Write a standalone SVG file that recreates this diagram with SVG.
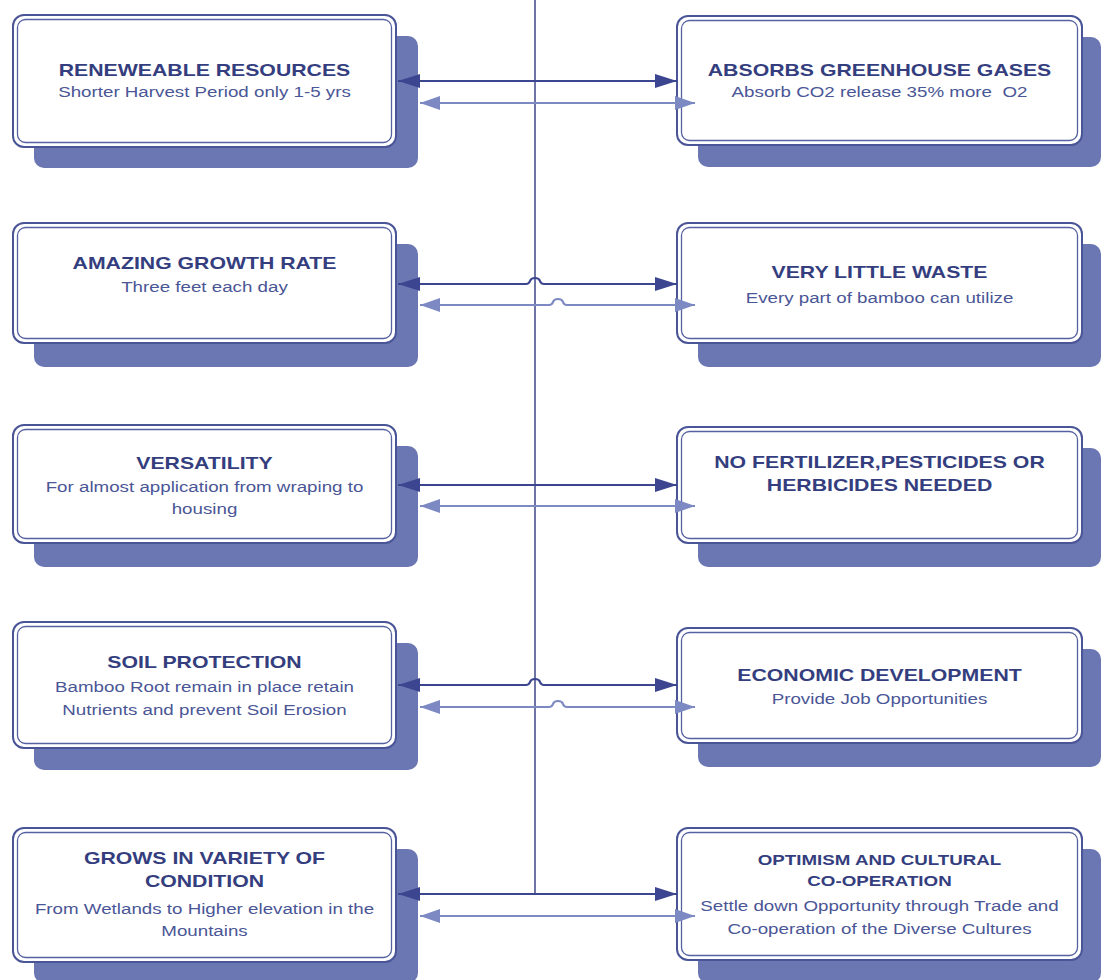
<svg xmlns="http://www.w3.org/2000/svg" width="1101" height="980" viewBox="0 0 1101 980">
<style>
.bg{fill:#ffffff}
.sh{fill:#6b77b3}
.ob{fill:#ffffff;stroke:#4a5597;stroke-width:2}
.ib{fill:none;stroke:#5561a0;stroke-width:1.3}
.t{font-family:"Liberation Sans",Arial,sans-serif;font-weight:bold;font-size:17px;fill:#343e7e;text-anchor:middle}
.ts{font-family:"Liberation Sans",Arial,sans-serif;font-weight:bold;font-size:15px;fill:#343e7e;text-anchor:middle}
.s{font-family:"Liberation Sans",Arial,sans-serif;font-size:15px;fill:#4a5696;text-anchor:middle}
.vl{stroke:#4a5290;stroke-width:1.6;fill:none}
.dk{stroke:#3c4690;stroke-width:2.2;fill:none}
.lt{stroke:#7c89c2;stroke-width:2.2;fill:none}
</style>
<defs>
<marker id="mdk" markerUnits="userSpaceOnUse" markerWidth="22" markerHeight="14" refX="22" refY="7" orient="auto-start-reverse"><path d="M0,0 L22,7 L0,14 z" fill="#3c4690"/></marker>
<marker id="mlt" markerUnits="userSpaceOnUse" markerWidth="20" markerHeight="14" refX="20" refY="7" orient="auto-start-reverse"><path d="M0,0 L20,7 L0,14 z" fill="#7c89c2"/></marker>
</defs>
<rect class="bg" x="0" y="0" width="1101" height="980"/>

<g id="n1">
<rect class="sh" x="34" y="36" width="384" height="132" rx="10"/>
<rect class="ob" x="13" y="15" width="383" height="132" rx="11"/>
<rect class="ib" x="17.5" y="19.5" width="374" height="123" rx="8"/>
<g transform="translate(204.5,0) scale(1.25,1)">
<text class="t" x="0" y="76">RENEWEABLE RESOURCES</text>
<text class="s" x="0" y="97">Shorter Harvest Period only 1-5 yrs</text>
</g>
</g>

<g id="n2">
<rect class="sh" x="698" y="37" width="403" height="130" rx="10"/>
<rect class="ob" x="677" y="16" width="405" height="129" rx="11"/>
<rect class="ib" x="681.5" y="20.5" width="396" height="120" rx="8"/>
<g transform="translate(879.5,0) scale(1.25,1)">
<text class="t" x="0" y="76">ABSORBS GREENHOUSE GASES</text>
<text class="s" x="0" y="97">Absorb CO2 release 35% more &#160;O2</text>
</g>
</g>

<g id="n3">
<rect class="sh" x="34" y="244" width="384" height="123" rx="10"/>
<rect class="ob" x="13" y="223" width="383" height="120" rx="11"/>
<rect class="ib" x="17.5" y="227.5" width="374" height="111" rx="8"/>
<g transform="translate(204.5,0) scale(1.25,1)">
<text class="t" x="0" y="269">AMAZING GROWTH RATE</text>
<text class="s" x="0" y="292">Three feet each day</text>
</g>
</g>

<g id="n4">
<rect class="sh" x="698" y="244" width="403" height="123" rx="10"/>
<rect class="ob" x="677" y="223" width="405" height="120" rx="11"/>
<rect class="ib" x="681.5" y="227.5" width="396" height="111" rx="8"/>
<g transform="translate(879.5,0) scale(1.25,1)">
<text class="t" x="0" y="278">VERY LITTLE WASTE</text>
<text class="s" x="0" y="303">Every part of bamboo can utilize</text>
</g>
</g>

<g id="n5">
<rect class="sh" x="34" y="446" width="384" height="121" rx="10"/>
<rect class="ob" x="13" y="425" width="383" height="118" rx="11"/>
<rect class="ib" x="17.5" y="429.5" width="374" height="109" rx="8"/>
<g transform="translate(204.5,0) scale(1.25,1)">
<text class="t" x="0" y="469">VERSATILITY</text>
<text class="s" x="0" y="492">For almost application from wraping to</text>
<text class="s" x="0" y="514">housing</text>
</g>
</g>

<g id="n6">
<rect class="sh" x="698" y="448" width="403" height="119" rx="10"/>
<rect class="ob" x="677" y="427" width="405" height="116" rx="11"/>
<rect class="ib" x="681.5" y="431.5" width="396" height="107" rx="8"/>
<g transform="translate(879.5,0) scale(1.25,1)">
<text class="t" x="0" y="468">NO FERTILIZER,PESTICIDES OR</text>
<text class="t" x="0" y="491">HERBICIDES NEEDED</text>
</g>
</g>

<g id="n7">
<rect class="sh" x="34" y="643" width="384" height="127" rx="10"/>
<rect class="ob" x="13" y="622" width="383" height="126" rx="11"/>
<rect class="ib" x="17.5" y="626.5" width="374" height="117" rx="8"/>
<g transform="translate(204.5,0) scale(1.25,1)">
<text class="t" x="0" y="668">SOIL PROTECTION</text>
<text class="s" x="0" y="692">Bamboo Root remain in place retain</text>
<text class="s" x="0" y="715">Nutrients and prevent Soil Erosion</text>
</g>
</g>

<g id="n8">
<rect class="sh" x="698" y="649" width="403" height="118" rx="10"/>
<rect class="ob" x="677" y="628" width="405" height="115" rx="11"/>
<rect class="ib" x="681.5" y="632.5" width="396" height="106" rx="8"/>
<g transform="translate(879.5,0) scale(1.25,1)">
<text class="t" x="0" y="681">ECONOMIC DEVELOPMENT</text>
<text class="s" x="0" y="704">Provide Job Opportunities</text>
</g>
</g>

<g id="n9">
<rect class="sh" x="34" y="849" width="384" height="134" rx="10"/>
<rect class="ob" x="13" y="828" width="383" height="134" rx="11"/>
<rect class="ib" x="17.5" y="832.5" width="374" height="125" rx="8"/>
<g transform="translate(204.5,0) scale(1.25,1)">
<text class="t" x="0" y="864">GROWS IN VARIETY OF</text>
<text class="t" x="0" y="887">CONDITION</text>
<text class="s" x="0" y="914">From Wetlands to Higher elevation in the</text>
<text class="s" x="0" y="936">Mountains</text>
</g>
</g>

<g id="n10">
<rect class="sh" x="698" y="849" width="403" height="134" rx="10"/>
<rect class="ob" x="677" y="828" width="405" height="132" rx="11"/>
<rect class="ib" x="681.5" y="832.5" width="396" height="123" rx="8"/>
<g transform="translate(879.5,0) scale(1.25,1)">
<text class="ts" x="0" y="865">OPTIMISM AND CULTURAL</text>
<text class="ts" x="0" y="886">CO-OPERATION</text>
<text class="s" x="0" y="911">Settle down Opportunity through Trade and</text>
<text class="s" x="0" y="934">Co-operation of the Diverse Cultures</text>
</g>
</g>

<g id="connectors">
<path class="vl" d="M535,0 V894"/>

<path class="dk" d="M398,81 H677" marker-start="url(#mdk)" marker-end="url(#mdk)"/>
<path class="lt" d="M420,103 H695" marker-start="url(#mlt)" marker-end="url(#mlt)"/>

<path class="dk" d="M398,284 H526 q3,0 4,-3 q1,-3 5,-3 q4,0 5,3 q1,3 4,3 H677" marker-start="url(#mdk)" marker-end="url(#mdk)"/>
<path class="lt" d="M420,305 H549 q3,0 4,-3 q1,-3 5,-3 q4,0 5,3 q1,3 4,3 H695" marker-start="url(#mlt)" marker-end="url(#mlt)"/>

<path class="dk" d="M398,485 H677" marker-start="url(#mdk)" marker-end="url(#mdk)"/>
<path class="lt" d="M420,506 H695" marker-start="url(#mlt)" marker-end="url(#mlt)"/>

<path class="dk" d="M398,685 H526 q3,0 4,-3 q1,-3 5,-3 q4,0 5,3 q1,3 4,3 H677" marker-start="url(#mdk)" marker-end="url(#mdk)"/>
<path class="lt" d="M420,707 H549 q3,0 4,-3 q1,-3 5,-3 q4,0 5,3 q1,3 4,3 H695" marker-start="url(#mlt)" marker-end="url(#mlt)"/>

<path class="dk" d="M398,894 H677" marker-start="url(#mdk)" marker-end="url(#mdk)"/>
<path class="lt" d="M420,916 H695" marker-start="url(#mlt)" marker-end="url(#mlt)"/>
</g>
</svg>
